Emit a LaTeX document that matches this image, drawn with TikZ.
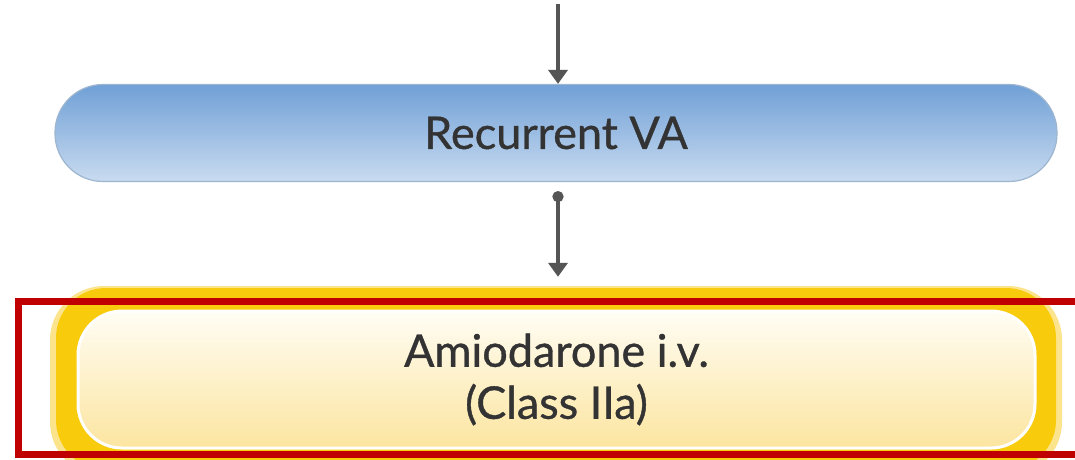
\documentclass[tikz,border=0pt]{standalone}
\usepackage{fontspec}
\newfontfamily\boxfont{Lato}[FakeBold=0.8]
\usetikzlibrary{arrows.meta}
\definecolor{txt}{HTML}{333333}
\definecolor{arrowgray}{HTML}{555555}
\definecolor{bluetop}{HTML}{70A0D6}
\definecolor{bluebot}{HTML}{C9DBF0}
\definecolor{blueedge}{HTML}{9DB6D0}
\definecolor{gold}{HTML}{F8CB0C}
\definecolor{goldsoft}{HTML}{FCE48C}
\definecolor{creamtop}{HTML}{FFFDF4}
\definecolor{creambot}{HTML}{FCE5A0}
\definecolor{hlred}{HTML}{C00000}
\tikzset{
  flowarrow/.style={draw=arrowgray, line width=4pt, -{Triangle[width=19pt,length=14pt]}},
  bluebox/.style={rounded corners=48pt, minimum width=1002pt, minimum height=97pt,
    top color=bluetop, bottom color=bluebot, draw=blueedge, line width=1.2pt,
    text=txt, font=\boxfont\fontsize{45}{52}\selectfont},
  goldglow/.style={rounded corners=54pt, minimum width=1012pt, minimum height=190pt,
    fill=goldsoft, draw=none},
  goldbox/.style={rounded corners=50pt, minimum width=1000pt, minimum height=182pt,
    fill=gold, draw=none},
  creambox/.style={rounded corners=44pt, minimum width=957pt, minimum height=137pt,
    top color=creamtop, bottom color=creambot, draw=white, line width=3pt,
    text=txt, font=\boxfont\fontsize{45}{56}\selectfont, align=center},
  highlight/.style={draw=hlred, line width=7pt, minimum width=1070pt, minimum height=153pt}
}
\begin{document}
\begin{tikzpicture}[x=1pt,y=-1pt]
  \useasboundingbox (0,0) rectangle (1075,459);
  \fill[white] (0,0) rectangle (1075,459);

  % incoming connector from above
  \coordinate (in) at (558,4);

  % recurrent VA step
  \node[bluebox] (recur) at (556,133) {Recurrent VA};

  % amiodarone step: soft halo, gold rim, cream face
  \node[goldglow] (glow) at (556,381) {};
  \node[goldbox] (amio) at (556,379) {};
  \node[creambox] (amioface) at (556.5,379.5)
    {Amiodarone i.v.\\[-4pt](Class IIa)};

  % connectors
  \draw[flowarrow] (in) -- (recur.north -| in);
  \draw[flowarrow, {Circle[length=11pt]}-{Triangle[width=19pt,length=14pt]}]
    ([yshift=-9pt]recur.south -| in) -- ([yshift=9pt]glow.north -| in);

  % highlight frame
  \node[highlight] (hl) at (553.5,377.5) {};
\end{tikzpicture}
\end{document}
